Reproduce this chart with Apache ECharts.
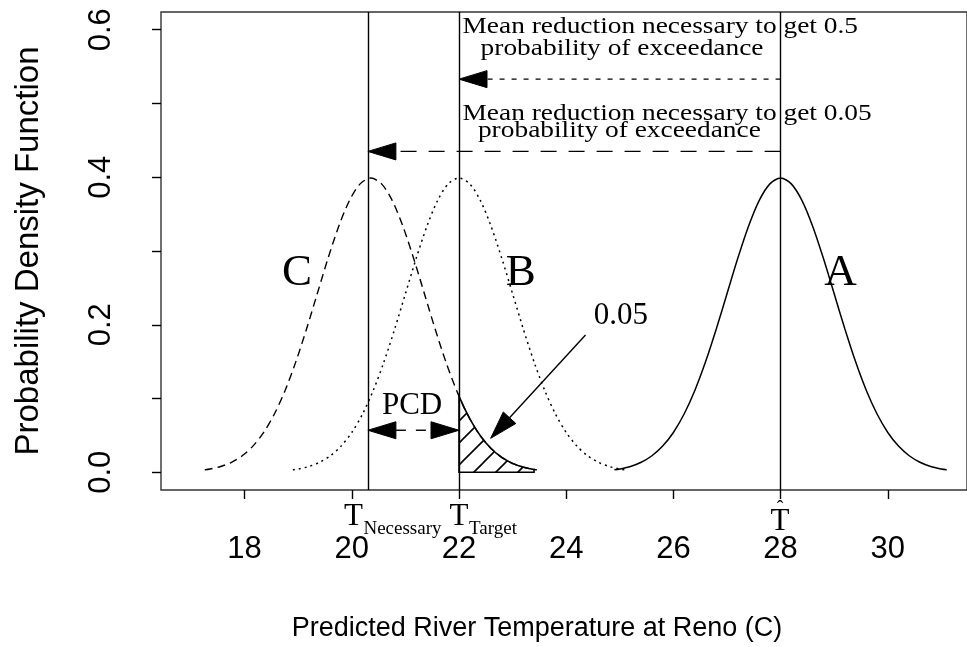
<!DOCTYPE html>
<html>
<head>
<meta charset="utf-8">
<script src="https://cdn.jsdelivr.net/npm/echarts@6/dist/echarts.min.js"></script>
<style>
  html, body { margin: 0; padding: 0; background: #ffffff; }
  #chart { width: 967px; height: 647px; }
</style>
</head>
<body>
<div id="chart"></div>
<script>
// Bell profile shared by the three temperature curves: offset from the mean (C) and density
const bellOffset  = [-3.1, -3.0, -2.8, -2.6, -2.4, -2.2, -2.0, -1.8, -1.6, -1.4, -1.2, -1.0, -0.8, -0.6, -0.4, -0.2, 0,
                      0.2, 0.4, 0.6, 0.8, 1.0, 1.2, 1.4, 1.6, 1.8, 2.0, 2.2, 2.4, 2.6, 2.8, 3.0, 3.1];
const bellDensity = [0.0033, 0.0044, 0.0079, 0.0136, 0.0224, 0.0355, 0.0540, 0.0790, 0.1109, 0.1497, 0.1942, 0.2420, 0.2897, 0.3332, 0.3683, 0.3910, 0.3989,
                      0.3910, 0.3683, 0.3332, 0.2897, 0.2420, 0.1942, 0.1497, 0.1109, 0.0790, 0.0540, 0.0355, 0.0224, 0.0136, 0.0079, 0.0044, 0.0033];

// Curve centres (C)
const meanA = 28;
const meanB = 22;
const meanC = 20.355;

// Reference temperatures drawn as vertical lines
const tNecessary = 20.3;
const tTarget = 22;
const tHat = 28;

// Upper tail of curve C beyond the target (probability of exceedance 0.05)
const tailX       = [22.0, 22.1, 22.2, 22.3, 22.4, 22.5, 22.6, 22.7, 22.8, 22.9, 23.0, 23.1, 23.2, 23.3, 23.4];
const tailDensity = [0.1031, 0.0870, 0.0727, 0.0602, 0.0493, 0.0400, 0.0321, 0.0255, 0.0201, 0.0156, 0.0121, 0.0092, 0.0070, 0.0052, 0.0039];

// Axis ticks
const xTicks = [18, 20, 22, 24, 26, 28, 30];
const yTicks = [0, 0.1, 0.2, 0.3, 0.4, 0.5, 0.6];
const yTickLabels = [0, 0.2, 0.4, 0.6];

// Arrows: start temperature, start density, end temperature, end density
const arrowFromX = [28, 28, 20.3, 24.36];
const arrowFromY = [0.533, 0.435, 0.057, 0.186];
const arrowToX   = [22, 20.3, 22, 22.59];
const arrowToY   = [0.533, 0.435, 0.057, 0.046];
const arrowBoth  = [false, false, true, false];

const SERIF = '"Liberation Serif", "Times New Roman", Times, serif';
const SANS = '"Liberation Sans", Arial, Helvetica, sans-serif';

function bellPoints(mean) {
  return bellOffset.map((d, i) => [mean + d, bellDensity[i]]);
}

// Diagonal hatch tile for the shaded tail
function hatchTile(size) {
  const c = document.createElement('canvas');
  c.width = size; c.height = size;
  const g = c.getContext('2d');
  g.strokeStyle = '#000';
  g.lineWidth = 1.6;
  g.beginPath();
  g.moveTo(-2, size + 2); g.lineTo(size + 2, -2);
  g.moveTo(-2, 2); g.lineTo(2, -2);
  g.moveTo(size - 2, size + 2); g.lineTo(size + 2, size - 2);
  g.stroke();
  return c;
}
const hatch = { image: hatchTile(22), repeat: 'repeat' };

const dashStyles = [[5, 7], [16, 12], [10, 10], null];

const chart = echarts.init(document.getElementById('chart'), null, { renderer: 'canvas' });

const option = {
  animation: false,
  backgroundColor: '#ffffff',
  grid: {
    left: 161, right: -5, top: 12, bottom: 157,
    show: true, borderColor: '#333', borderWidth: 1.4, backgroundColor: 'transparent'
  },
  xAxis: {
    type: 'value',
    min: 16.44, max: 31.478,
    name: 'Predicted River Temperature at Reno (C)',
    nameLocation: 'middle',
    nameGap: 125,
    nameTextStyle: { fontFamily: SANS, fontSize: 27, color: '#000', padding: [0, 54, 0, 0] },
    axisLine: { show: false, onZero: false },
    axisTick: { show: true, customValues: xTicks, length: 9, lineStyle: { color: '#000', width: 1.4 } },
    axisLabel: { show: true, customValues: xTicks, margin: 44, fontFamily: SANS, fontSize: 31, color: '#000',
                 formatter: v => String(v) },
    splitLine: { show: false }
  },
  yAxis: {
    type: 'value',
    min: -0.024, max: 0.624,
    name: 'Probability Density Function',
    nameLocation: 'middle',
    nameGap: 116,
    nameRotate: 90,
    nameTextStyle: { fontFamily: SANS, fontSize: 33, color: '#000' },
    axisLine: { show: false, onZero: false },
    axisTick: { show: true, customValues: yTicks, length: 9, lineStyle: { color: '#000', width: 1.4 } },
    axisLabel: { show: true, customValues: yTickLabels, rotate: 90, margin: 44, fontFamily: SANS, fontSize: 31, color: '#000',
                 formatter: v => v.toFixed(1) },
    splitLine: { show: false }
  },
  series: [
    {
      name: 'A', type: 'line', data: bellPoints(meanA), showSymbol: false, smooth: 0.3,
      lineStyle: { color: '#000', width: 1.5, type: 'solid' }, silent: true
    },
    {
      name: 'B', type: 'line', data: bellPoints(meanB), showSymbol: false, smooth: 0.3,
      lineStyle: { color: '#000', width: 1.5, type: [2, 4] }, silent: true
    },
    {
      name: 'C', type: 'line', data: bellPoints(meanC), showSymbol: false, smooth: 0.3,
      lineStyle: { color: '#000', width: 1.4, type: [8, 5] }, silent: true
    },
    {
      name: 'tail', type: 'custom', silent: true,
      data: [[tailX[0], 0]],
      renderItem: function (params, api) {
        const pts = [api.coord([tailX[0], 0])];
        tailX.forEach((x, i) => pts.push(api.coord([x, tailDensity[i]])));
        pts.push(api.coord([tailX[tailX.length - 1], 0]));
        return {
          type: 'polygon',
          shape: { points: pts },
          style: { fill: hatch, stroke: '#000', lineWidth: 1.6 }
        };
      }
    },
    {
      name: 'levels', type: 'line', data: [], silent: true,
      markLine: {
        silent: true, symbol: ['none', 'none'], label: { show: false },
        lineStyle: { color: '#000', width: 1.4, type: 'solid' },
        data: [{ xAxis: tNecessary }, { xAxis: tTarget }, { xAxis: tHat }]
      }
    },
    {
      name: 'arrows', type: 'custom', silent: true,
      data: arrowFromX.map((x, i) => [x, arrowFromY[i], arrowToX[i], arrowToY[i], i]),
      renderItem: function (params, api) {
        const i = api.value(4);
        const p1 = api.coord([api.value(0), api.value(1)]);
        const p2 = api.coord([api.value(2), api.value(3)]);
        const dx = p2[0] - p1[0], dy = p2[1] - p1[1];
        const len = Math.sqrt(dx * dx + dy * dy);
        const ux = dx / len, uy = dy / len, nx = -uy, ny = ux;
        const L = 28, W = 8.5;
        function head(tip, sx, sy) {
          const bx = tip[0] - sx * L, by = tip[1] - sy * L;
          return {
            type: 'polygon',
            shape: { points: [tip, [bx + nx * W, by + ny * W], [bx - nx * W, by - ny * W]] },
            style: { fill: '#000', stroke: '#000', lineWidth: 1 }
          };
        }
        const start = arrowBoth[i] ? [p1[0] + ux * L, p1[1] + uy * L] : p1;
        const end = [p2[0] - ux * L, p2[1] - uy * L];
        const children = [{
          type: 'line',
          shape: { x1: start[0], y1: start[1], x2: end[0], y2: end[1] },
          style: { stroke: '#000', lineWidth: 1.4, lineDash: dashStyles[i] || null }
        }, head(p2, ux, uy)];
        if (arrowBoth[i]) children.push(head(p1, -ux, -uy));
        return { type: 'group', children: children };
      }
    }
  ]
};

chart.setOption(option);

// Text annotations placed in data coordinates
function px(x, y) { return chart.convertToPixel({ gridIndex: 0 }, [x, y]); }

const notes = [
  { text: 'C', at: [18.977, 0.270], size: 45, align: 'center', sy: 1 },
  { text: 'B', at: [23.15, 0.270], size: 45, align: 'center', sy: 1 },
  { text: 'A', at: [29.12, 0.270], size: 45, align: 'center', sy: 1 },
  { text: '0.05', at: [25.02, 0.2126], size: 31, align: 'center', sy: 1 },
  { text: 'PCD', at: [21.125, 0.0899], size: 31, align: 'center', sy: 1 },
  { text: 'Mean reduction necessary to get 0.5', at: [22.065, 0.604], size: 27.4, align: 'left', sy: 0.86 },
  { text: 'probability of exceedance', at: [22.403, 0.574], size: 27.4, align: 'left', sy: 0.86 },
  { text: 'Mean reduction necessary to get 0.05', at: [22.065, 0.486], size: 27.4, align: 'left', sy: 0.86 },
  { text: 'probability of exceedance', at: [22.353, 0.463], size: 27.4, align: 'left', sy: 0.86 }
];

const graphics = notes.map(n => {
  const p = px(n.at[0], n.at[1]);
  return {
    type: 'text', x: p[0], y: p[1], scaleY: n.sy, silent: true,
    style: { text: n.text, font: n.size + 'px ' + SERIF, fill: '#000', align: n.align, verticalAlign: 'middle' }
  };
});

// Symbols under the axis: T with subscripts and T-hat
const axisY = px(0, -0.024)[1];
const symbolMarks = [
  { x: 20.03, sub: 'Necessary', hat: false },
  { x: 22.0, sub: 'Target', hat: false },
  { x: 27.99, sub: '', hat: true }
];
symbolMarks.forEach(s => {
  const cx = px(s.x, 0)[0];
  const drop = s.hat ? 5 : 0;
  graphics.push({
    type: 'text', x: cx, y: axisY + 27 + drop, silent: true,
    style: { text: 'T', font: '31px ' + SERIF, fill: '#000', align: 'center', verticalAlign: 'middle' }
  });
  if (s.sub) {
    graphics.push({
      type: 'text', x: cx + 10, y: axisY + 39, silent: true,
      style: { text: s.sub, font: '19px ' + SERIF, fill: '#000', align: 'left', verticalAlign: 'middle' }
    });
  }
  if (s.hat) {
    graphics.push({
      type: 'text', x: cx, y: axisY + 20, silent: true,
      style: { text: 'ˆ', font: '20px ' + SERIF, fill: '#000', align: 'center', verticalAlign: 'middle' }
    });
  }
});

chart.setOption({ graphic: graphics });
</script>
</body>
</html>
